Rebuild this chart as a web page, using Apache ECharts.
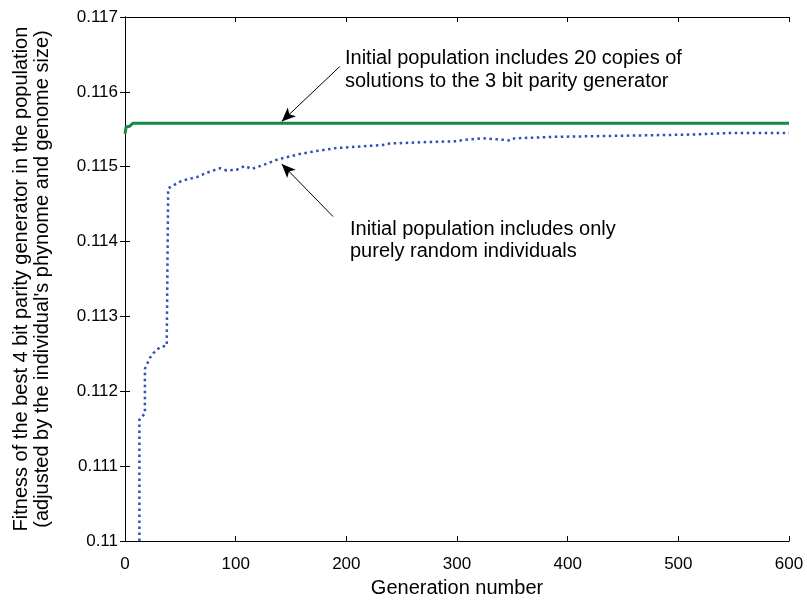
<!DOCTYPE html>
<html>
<head>
<meta charset="utf-8">
<script src="https://cdn.jsdelivr.net/npm/echarts@6/dist/echarts.min.js"></script>
<style>
html,body{margin:0;padding:0;background:#fff;}
#chart{width:807px;height:603px;}
</style>
</head>
<body>
<div id="chart"></div>
<script>
// ---- data ----
var xTicks = [0, 100, 200, 300, 400, 500, 600];
var yTicks = [0.110, 0.111, 0.112, 0.113, 0.114, 0.115, 0.116, 0.117];

var greenGen = [0, 1, 4, 7, 600];
var greenVal = [0.11544, 0.11553, 0.11554, 0.11558, 0.11558];

var blueGen = [13, 13, 15, 18, 18, 22.6, 25.6, 31.6, 37.7, 39, 39, 43.7, 49.7, 55.7, 64.8, 73.8, 85.8, 91.9, 100.9, 108.4, 114.5, 128, 138.5, 158, 173, 191, 212, 233, 239, 273, 300, 306, 324, 342, 348, 352, 390, 513, 547, 600];
var blueVal = [0.1100, 0.11162, 0.11166, 0.11170, 0.11230, 0.11245, 0.11251, 0.11259, 0.11261, 0.11262, 0.11471, 0.11475, 0.11480, 0.11483, 0.11486, 0.11492, 0.11498, 0.11495, 0.11496, 0.11501, 0.11497, 0.11504, 0.11510, 0.11517, 0.11521, 0.11525, 0.11527, 0.11529, 0.11531, 0.11533, 0.11534, 0.11536, 0.11538, 0.11536, 0.11535, 0.11538, 0.11540, 0.11543, 0.11545, 0.11545];

// annotation arrows in data space: [fromGen, fromVal, toGen, toVal]
var arrowGreen = [194, 0.116337, 141.6, 0.115604];
var arrowBlue = [188, 0.114335, 141.6, 0.115038];

var noteGreen = ["Initial population includes 20 copies of", "solutions to the 3 bit parity generator"];
var noteBlue = ["Initial population includes only", "purely random individuals"];

var xTitle = "Generation number";
var yTitle = ["Fitness of the best 4 bit parity generator in the population", "(adjusted by the individual's phynome and genome size)"];

function zip(a, b) { return a.map(function (v, i) { return [v, b[i]]; }); }

var FONT = "'Liberation Sans', Arial, sans-serif";
var chart = echarts.init(document.getElementById('chart'), null, {renderer: 'canvas'});

function arrowML(a) {
  return {
    silent: true,
    symbol: ['none', 'arrow'],
    symbolSize: [9, 14],
    lineStyle: {color: '#000', width: 1, type: 'solid'},
    label: {show: false},
    emphasis: {disabled: true},
    animation: false,
    data: [[{coord: [a[0], a[1]]}, {coord: [a[2], a[3]]}]]
  };
}

var axisCommon = {
  type: 'value',
  axisLine: {show: true, lineStyle: {color: '#000', width: 1}},
  axisTick: {show: true, inside: true, length: 5, lineStyle: {color: '#000'}},
  splitLine: {show: false}
};

var option = {
  animation: false,
  backgroundColor: '#fff',
  grid: {left: 125, right: 18, top: 17, bottom: 58, containLabel: false},
  xAxis: [
    Object.assign({}, axisCommon, {
      min: xTicks[0], max: xTicks[xTicks.length - 1], interval: 100,
      position: 'bottom',
      axisLabel: {color: '#000', fontSize: 17, fontFamily: FONT, margin: 15},
      name: xTitle, nameLocation: 'middle', nameGap: 32,
      nameTextStyle: {color: '#000', fontSize: 20, fontFamily: FONT}
    }),
    Object.assign({}, axisCommon, {
      min: xTicks[0], max: xTicks[xTicks.length - 1], interval: 100,
      position: 'top', axisLabel: {show: false}
    })
  ],
  yAxis: [
    Object.assign({}, axisCommon, {
      min: yTicks[0], max: yTicks[yTicks.length - 1], interval: 0.001,
      position: 'left',
      axisLabel: {color: '#000', fontSize: 17, fontFamily: FONT, margin: 7,
        formatter: function (v) { return (Math.round(v * 1000) / 1000).toString(); }},
      name: yTitle.join('\n'), nameLocation: 'middle', nameGap: 72, nameRotate: 90,
      nameTextStyle: {color: '#000', fontSize: 20, fontFamily: FONT, lineHeight: 21}
    }),
    Object.assign({}, axisCommon, {
      min: yTicks[0], max: yTicks[yTicks.length - 1], interval: 0.001,
      position: 'right', axisLabel: {show: false}
    })
  ],
  series: [
    {
      type: 'line', xAxisIndex: 0, yAxisIndex: 0,
      data: zip(blueGen, blueVal),
      showSymbol: false, symbol: 'none',
      lineStyle: {color: '#3050b4', width: 2.5, type: [2.5, 3.5]},
      clip: true,
      markLine: arrowML(arrowBlue),
      z: 2
    },
    {
      type: 'line', xAxisIndex: 0, yAxisIndex: 0,
      data: zip(greenGen, greenVal),
      showSymbol: false, symbol: 'none',
      lineStyle: {color: '#138a45', width: 3},
      markLine: arrowML(arrowGreen),
      z: 3
    }
  ],
  graphic: [
    {type: 'text', x: 345, y: 58, style: {text: noteGreen[0], font: '20px ' + FONT, fill: '#000', verticalAlign: 'middle'}},
    {type: 'text', x: 345, y: 81, style: {text: noteGreen[1], font: '20px ' + FONT, fill: '#000', verticalAlign: 'middle'}},
    {type: 'text', x: 350, y: 229, style: {text: noteBlue[0], font: '20px ' + FONT, fill: '#000', verticalAlign: 'middle'}},
    {type: 'text', x: 350, y: 251, style: {text: noteBlue[1], font: '20px ' + FONT, fill: '#000', verticalAlign: 'middle'}}
  ]
};
chart.setOption(option);
</script>
</body>
</html>
